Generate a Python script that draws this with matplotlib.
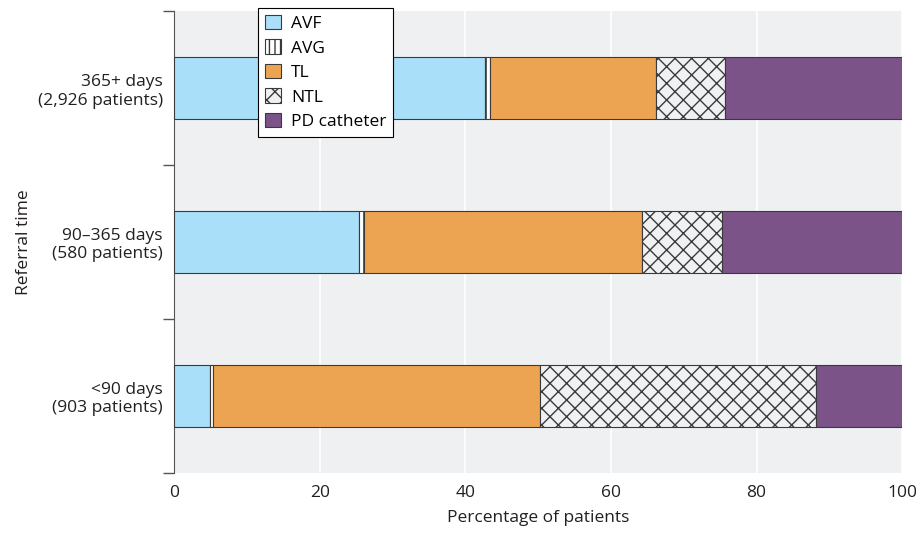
import matplotlib
matplotlib.use('Agg')
import matplotlib.pyplot as plt
import numpy as np

plt.rcParams['font.family'] = ['Open Sans', 'DejaVu Sans']

# Data (percentage of patients)
groups = ['<90 days\n(903 patients)', '90\u2013365 days\n(580 patients)', '365+ days\n(2,926 patients)']
avf = [5.0, 25.4, 42.7]
avg = [0.3, 0.7, 0.7]
tl = [44.9, 38.1, 22.8]
ntl = [38.0, 11.1, 9.5]
pd_cath = [11.8, 24.7, 24.3]

series = [
    ('AVF', avf, '#AADFF9', None),
    ('AVG', avg, 'white', '|||'),
    ('TL', tl, '#EDA452', None),
    ('NTL', ntl, '#F0F1F3', 'xx'),
    ('PD catheter', pd_cath, '#7B5389', None),
]

FS = 12.5
TXT = '#231f20'

fig = plt.figure(figsize=(9.16, 5.33), dpi=100)
ax = fig.add_axes([0.19, 0.1126, 0.795, 0.8665])
ax.set_facecolor('#EFF0F2')

y = np.arange(len(groups))
left = np.zeros(len(groups))
handles = []
for name, vals, color, hatch in series:
    b = ax.barh(y, vals, left=left, height=0.4, color=color, edgecolor='#3a3a3a',
                linewidth=0.8, hatch=hatch, label=name, zorder=3)
    handles.append(b)
    left += np.array(vals)

ax.set_xlim(0, 100)
ax.set_ylim(-0.5, 2.5)
ax.set_xticks([0, 20, 40, 60, 80, 100])
ax.tick_params(axis='x', length=0, labelsize=FS, pad=9, colors=TXT)
ax.grid(axis='x', color='white', linewidth=1.2, zorder=0)

# boundary ticks on the y axis, category labels in between
ax.set_yticks([-0.5, 0.5, 1.5, 2.5])
ax.set_yticklabels([])
ax.set_yticks(y, minor=True)
ax.set_yticklabels(groups, minor=True, fontsize=FS, color=TXT)
ax.tick_params(axis='y', which='major', length=8, width=1, color='#555555')
ax.tick_params(axis='y', which='minor', length=0, pad=8)

for s in ['top', 'right', 'bottom']:
    ax.spines[s].set_visible(False)
ax.spines['left'].set_color('#555555')

ax.set_xlabel('Percentage of patients', fontsize=FS, color=TXT, labelpad=6)
ax.set_ylabel('Referral time', fontsize=FS, color=TXT, labelpad=4)

leg = ax.legend(handles=handles, loc='upper left', fontsize=FS, frameon=True,
                fancybox=False, edgecolor='black', framealpha=1,
                handlelength=0.9, handleheight=0.9, handletextpad=0.6,
                labelspacing=0.42, borderpad=0.4, borderaxespad=0)
leg.set_bbox_to_anchor((258 / 916, 1 - 8 / 533), transform=fig.transFigure)
leg.get_frame().set_linewidth(0.8)
leg.set_zorder(5)

fig.savefig('out.png', dpi=100)
